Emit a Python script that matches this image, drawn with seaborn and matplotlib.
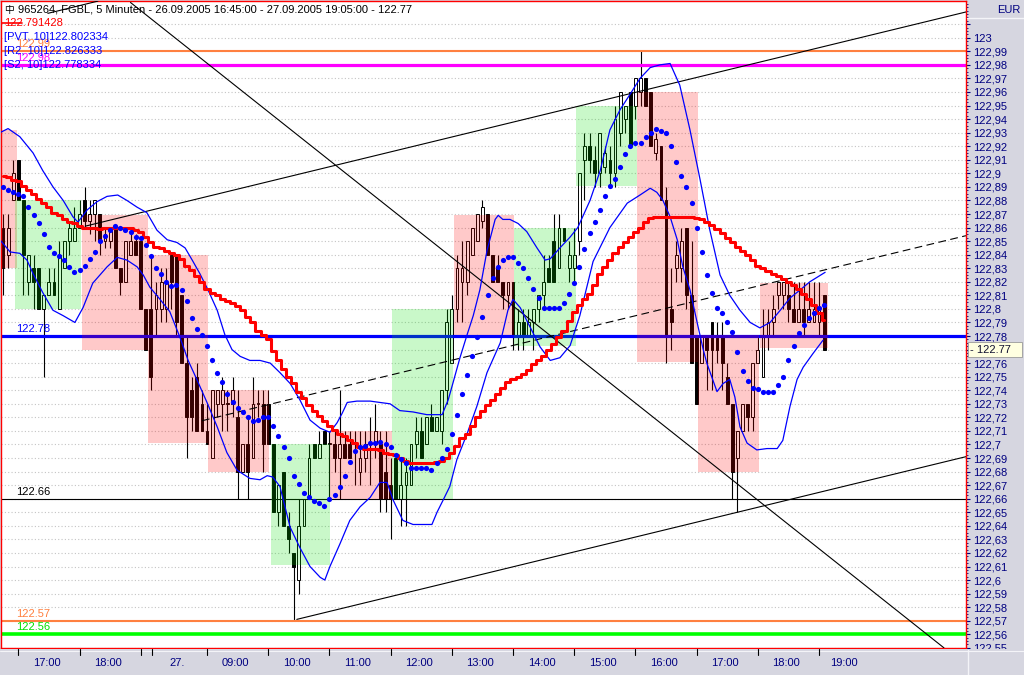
import numpy as np
import pandas as pd
import matplotlib
matplotlib.use("Agg")
import matplotlib.pyplot as plt
import matplotlib.transforms as mtransforms
from matplotlib.patches import Rectangle
from matplotlib.lines import Line2D
from matplotlib.ticker import MultipleLocator
import seaborn as sns

# ---------------- data (5-minute FGBL candles, bar index 0..161) ----------------
opens = [122.86, 122.84, 122.88, 122.91, 122.88, 122.82, 122.83, 122.83, 122.80, 122.81,
         122.82, 122.80, 122.83, 122.85, 122.85, 122.86, 122.88, 122.865, 122.87, 122.87,
         122.85, 122.85, 122.86, 122.83, 122.82, 122.84, 122.85, 122.85, 122.80, 122.80,
         122.80, 122.80, 122.80, 122.84, 122.84, 122.81, 122.76, 122.74, 122.75, 122.73,
         122.71, 122.69, 122.73, 122.73, 122.73, 122.73, 122.72, 122.68, 122.70, 122.69,
         122.73, 122.73, 122.73, 122.70, 122.65, 122.68, 122.64, 122.62, 122.60, 122.64,
         122.66, 122.70, 122.69, 122.71, 122.70, 122.70, 122.69, 122.70, 122.70, 122.70,
         122.68, 122.69, 122.70, 122.70, 122.70, 122.68, 122.67, 122.69, 122.66, 122.67,
         122.67, 122.70, 122.71, 122.70, 122.72, 122.71, 122.71, 122.74, 122.76, 122.80,
         122.82, 122.82, 122.84, 122.85, 122.865, 122.87, 122.84, 122.83, 122.82, 122.81,
         122.82, 122.78, 122.79, 122.78, 122.79, 122.80, 122.81, 122.83, 122.85, 122.83,
         122.86, 122.83, 122.83, 122.85, 122.91, 122.92, 122.91, 122.90, 122.905, 122.91,
         122.90, 122.93, 122.94, 122.96, 122.95, 122.96, 122.97, 122.96, 122.915, 122.92,
         122.88, 122.80, 122.83, 122.83, 122.86, 122.81, 122.78, 122.76, 122.78, 122.79,
         122.78, 122.78, 122.75, 122.73, 122.69, 122.71, 122.73, 122.72, 122.76, 122.75,
         122.78, 122.79, 122.81, 122.81, 122.81, 122.80, 122.79, 122.80, 122.79, 122.79,
         122.79, 122.81]
highs = [122.87, 122.87, 122.91, 122.91, 122.88, 122.84, 122.84, 122.83, 122.81, 122.83,
         122.83, 122.85, 122.85, 122.865, 122.875, 122.88, 122.89, 122.88, 122.88, 122.87,
         122.86, 122.86, 122.86, 122.83, 122.85, 122.855, 122.855, 122.85, 122.80, 122.84,
         122.82, 122.83, 122.83, 122.84, 122.84, 122.81, 122.78, 122.75, 122.76, 122.74,
         122.73, 122.74, 122.74, 122.75, 122.74, 122.75, 122.74, 122.70, 122.72, 122.75,
         122.74, 122.74, 122.74, 122.70, 122.67, 122.68, 122.65, 122.62, 122.66, 122.66,
         122.70, 122.70, 122.71, 122.71, 122.71, 122.71, 122.74, 122.71, 122.71, 122.71,
         122.71, 122.71, 122.72, 122.73, 122.71, 122.71, 122.69, 122.69, 122.69, 122.69,
         122.70, 122.72, 122.72, 122.72, 122.73, 122.72, 122.74, 122.80, 122.81, 122.84,
         122.85, 122.85, 122.86, 122.87, 122.88, 122.87, 122.84, 122.84, 122.82, 122.82,
         122.82, 122.80, 122.80, 122.80, 122.80, 122.81, 122.84, 122.84, 122.87, 122.87,
         122.86, 122.85, 122.86, 122.90, 122.93, 122.93, 122.92, 122.93, 122.92, 122.92,
         122.95, 122.96, 122.95, 122.96, 122.97, 122.99, 122.97, 122.96, 122.93, 122.92,
         122.89, 122.83, 122.85, 122.86, 122.86, 122.85, 122.78, 122.78, 122.78, 122.79,
         122.79, 122.79, 122.76, 122.73, 122.71, 122.73, 122.73, 122.76, 122.78, 122.80,
         122.80, 122.81, 122.82, 122.82, 122.82, 122.82, 122.82, 122.82, 122.82, 122.82,
         122.82, 122.81]
lows = [122.81, 122.83, 122.88, 122.88, 122.81, 122.81, 122.80, 122.80, 122.75, 122.81,
        122.81, 122.80, 122.83, 122.84, 122.85, 122.86, 122.86, 122.855, 122.85, 122.84,
        122.845, 122.845, 122.83, 122.81, 122.82, 122.84, 122.84, 122.80, 122.77, 122.74,
        122.78, 122.79, 122.79, 122.80, 122.78, 122.76, 122.69, 122.71, 122.71, 122.71,
        122.70, 122.69, 122.72, 122.71, 122.71, 122.72, 122.66, 122.68, 122.66, 122.69,
        122.72, 122.68, 122.70, 122.65, 122.64, 122.64, 122.62, 122.57, 122.59, 122.64,
        122.66, 122.69, 122.69, 122.70, 122.66, 122.68, 122.66, 122.69, 122.69, 122.67,
        122.67, 122.68, 122.67, 122.69, 122.65, 122.65, 122.63, 122.66, 122.64, 122.64,
        122.67, 122.69, 122.69, 122.70, 122.71, 122.71, 122.70, 122.73, 122.76, 122.79,
        122.79, 122.81, 122.84, 122.85, 122.86, 122.84, 122.82, 122.82, 122.80, 122.80,
        122.77, 122.77, 122.77, 122.78, 122.77, 122.79, 122.80, 122.82, 122.82, 122.83,
        122.85, 122.82, 122.82, 122.84, 122.88, 122.90, 122.89, 122.89, 122.90, 122.89,
        122.89, 122.92, 122.93, 122.92, 122.94, 122.95, 122.95, 122.92, 122.91, 122.88,
        122.76, 122.77, 122.82, 122.82, 122.80, 122.76, 122.73, 122.76, 122.74, 122.74,
        122.76, 122.74, 122.73, 122.66, 122.65, 122.71, 122.71, 122.71, 122.76, 122.75,
        122.77, 122.78, 122.80, 122.80, 122.79, 122.79, 122.79, 122.78, 122.79, 122.79,
        122.78, 122.77]
closes = [122.83, 122.86, 122.90, 122.88, 122.84, 122.84, 122.82, 122.80, 122.81, 122.82,
          122.81, 122.84, 122.85, 122.86, 122.86, 122.87, 122.865, 122.87, 122.88, 122.85,
          122.855, 122.86, 122.83, 122.82, 122.85, 122.85, 122.84, 122.80, 122.77, 122.75,
          122.81, 122.82, 122.82, 122.82, 122.79, 122.76, 122.72, 122.72, 122.71, 122.71,
          122.70, 122.74, 122.74, 122.74, 122.73, 122.74, 122.68, 122.70, 122.68, 122.73,
          122.73, 122.70, 122.70, 122.65, 122.67, 122.64, 122.63, 122.61, 122.64, 122.66,
          122.69, 122.69, 122.70, 122.70, 122.70, 122.69, 122.70, 122.69, 122.69, 122.70,
          122.69, 122.70, 122.70, 122.71, 122.66, 122.66, 122.66, 122.66, 122.67, 122.68,
          122.70, 122.71, 122.69, 122.72, 122.71, 122.72, 122.74, 122.79, 122.80, 122.83,
          122.83, 122.85, 122.86, 122.87, 122.875, 122.84, 122.82, 122.82, 122.81, 122.82,
          122.78, 122.79, 122.78, 122.79, 122.80, 122.81, 122.82, 122.82, 122.82, 122.86,
          122.85, 122.84, 122.84, 122.90, 122.92, 122.91, 122.90, 122.93, 122.915, 122.90,
          122.94, 122.96, 122.95, 122.92, 122.97, 122.97, 122.95, 122.92, 122.925, 122.88,
          122.78, 122.79, 122.84, 122.85, 122.81, 122.76, 122.73, 122.78, 122.77, 122.77,
          122.77, 122.76, 122.73, 122.68, 122.71, 122.73, 122.72, 122.76, 122.77, 122.78,
          122.79, 122.80, 122.82, 122.82, 122.80, 122.79, 122.80, 122.79, 122.80, 122.80,
          122.80, 122.77]

# red stepped moving average, one value per bar
ma_values = [122.898, 122.897, 122.895, 122.894, 122.891, 122.888, 122.885, 122.881, 122.878, 122.875,
             122.871, 122.869, 122.866, 122.864, 122.863, 122.861, 122.860, 122.860, 122.860, 122.859,
             122.860, 122.860, 122.860, 122.860, 122.860, 122.860, 122.858, 122.857, 122.853, 122.849,
             122.846, 122.845, 122.843, 122.841, 122.840, 122.837, 122.832, 122.829, 122.824, 122.820,
             122.815, 122.812, 122.810, 122.807, 122.806, 122.804, 122.802, 122.799, 122.794, 122.790,
             122.784, 122.781, 122.778, 122.769, 122.762, 122.756, 122.750, 122.745, 122.739, 122.734,
             122.729, 122.725, 122.721, 122.717, 122.714, 122.711, 122.708, 122.706, 122.703, 122.701,
             122.698, 122.697, 122.697, 122.697, 122.696, 122.694, 122.693, 122.692, 122.690, 122.688,
             122.686, 122.686, 122.686, 122.686, 122.686, 122.687, 122.688, 122.690, 122.694, 122.699,
             122.705, 122.708, 122.714, 122.720, 122.725, 122.729, 122.733, 122.737, 122.742, 122.746,
             122.748, 122.750, 122.752, 122.755, 122.759, 122.762, 122.765, 122.770, 122.774, 122.779,
             122.784, 122.791, 122.798, 122.803, 122.807, 122.811, 122.818, 122.826, 122.831, 122.836,
             122.841, 122.846, 122.849, 122.853, 122.857, 122.860, 122.864, 122.867, 122.868, 122.868,
             122.868, 122.868, 122.868, 122.868, 122.868, 122.868, 122.867, 122.866, 122.864, 122.862,
             122.859, 122.856, 122.852, 122.849, 122.846, 122.843, 122.840, 122.836, 122.832, 122.830,
             122.828, 122.826, 122.824, 122.822, 122.820, 122.818, 122.815, 122.811, 122.807, 122.803,
             122.797, 122.792]

# blue dotted stop indicator, one value per bar
sar_values = [122.890, 122.888, 122.886, 122.885, 122.883, 122.875, 122.869, 122.863, 122.855, 122.846,
              122.841, 122.839, 122.836, 122.831, 122.827, 122.829, 122.832, 122.837, 122.842, 122.850,
              122.854, 122.858, 122.861, 122.860, 122.858, 122.857, 122.853, 122.852, 122.847, 122.839,
              122.830, 122.826, 122.820, 122.817, 122.818, 122.814, 122.806, 122.793, 122.785, 122.781,
              122.773, 122.762, 122.753, 122.746, 122.737, 122.731, 122.727, 122.724, 122.720, 122.717,
              122.718, 122.720, 122.720, 122.714, 122.706, 122.698, 122.690, 122.677, 122.671, 122.664,
              122.661, 122.658, 122.657, 122.655, 122.660, 122.663, 122.669, 122.677, 122.687, 122.695,
              122.698, 122.699, 122.701, 122.701, 122.702, 122.700, 122.698, 122.692, 122.689, 122.686,
              122.683, 122.683, 122.683, 122.683, 122.681, 122.686, 122.690, 122.697, 122.708, 122.722,
              122.737, 122.751, 122.765, 122.779, 122.794, 122.810, 122.823, 122.831, 122.836, 122.838,
              122.838, 122.834, 122.830, 122.823, 122.815, 122.808, 122.801, 122.801, 122.801, 122.801,
              122.804, 122.811, 122.819, 122.831, 122.844, 122.856, 122.864, 122.873, 122.883, 122.891,
              122.896, 122.905, 122.914, 122.920, 122.922, 122.922, 122.927, 122.930, 122.933, 122.931,
              122.930, 122.920, 122.908, 122.898, 122.890, 122.878, 122.860, 122.842, 122.825, 122.812,
              122.801, 122.797, 122.790, 122.783, 122.768, 122.754, 122.747, 122.742, 122.741, 122.739,
              122.739, 122.739, 122.744, 122.750, 122.762, 122.773, 122.782, 122.788, 122.793, 122.797,
              122.801, 122.803]

# envelope bands (bar index, price)
upper_x = [-0.6, 1.0, 3.3, 5.9, 7.8, 9.8, 11.8, 13.7, 14.7, 16.5, 18.4, 20.4, 22.5, 24.3, 26.3,
           28.2, 30.2, 32.2, 34.1, 35.7, 37.1, 38.6, 40.2, 42.0, 43.5, 44.9, 46.5, 48.4, 50.4, 52.4,
           54.3, 56.3, 58.2, 60.2, 62.2, 64.1, 65.5, 66.5, 67.5, 69.4, 72.0, 73.9, 75.9, 77.8, 80.4,
           83.1, 86.1, 87.3, 88.2, 89.6, 91.0, 92.2, 93.5, 94.9, 96.5, 97.1, 98.0, 99.4, 101.0, 102.7,
           104.7, 106.3, 107.3, 109.2, 111.2, 112.7, 115.1, 117.1, 119.0, 121.0, 122.9, 124.9, 126.9, 128.8,
           130.8, 132.7, 134.7, 136.7, 138.6, 140.6, 142.5, 144.5, 146.5, 148.4, 150.4, 152.4, 154.3, 156.3,
           158.2, 161.2]
upper_y = [122.930, 122.933, 122.927, 122.915, 122.902, 122.890, 122.880, 122.868, 122.864, 122.873,
           122.879, 122.883, 122.884, 122.880, 122.875, 122.871, 122.858, 122.851, 122.849, 122.845,
           122.836, 122.826, 122.814, 122.799, 122.781, 122.770, 122.765, 122.762, 122.762, 122.760,
           122.753, 122.745, 122.733, 122.718, 122.712, 122.709, 122.716, 122.723, 122.731, 122.732,
           122.732, 122.731, 122.730, 122.725, 122.724, 122.722, 122.722, 122.733, 122.745, 122.764,
           122.781, 122.795, 122.814, 122.843, 122.866, 122.869, 122.866, 122.866, 122.863, 122.857,
           122.845, 122.836, 122.837, 122.845, 122.853, 122.860, 122.880, 122.902, 122.932, 122.947,
           122.958, 122.970, 122.978, 122.980, 122.981, 122.965, 122.932, 122.895, 122.858, 122.825,
           122.810, 122.799, 122.790, 122.786, 122.790, 122.799, 122.808, 122.814, 122.820, 122.827]
lower_x = [-0.6, 1.4, 3.3, 4.7, 5.9, 7.8, 9.8, 11.8, 14.1, 15.7, 17.6, 20.4, 22.4, 24.3, 26.3,
           27.5, 28.8, 30.8, 32.7, 34.7, 36.3, 38.0, 40.0, 42.0, 43.9, 45.9, 48.4, 50.4, 51.8, 52.9,
           54.3, 56.3, 58.2, 60.2, 62.2, 63.1, 64.1, 66.1, 68.0, 70.0, 72.0, 73.9, 75.3, 76.5, 78.4,
           80.4, 82.4, 84.1, 85.1, 86.3, 87.6, 89.0, 91.0, 92.9, 94.9, 97.5, 99.0, 100.0, 101.4, 103.3,
           105.3, 107.3, 109.2, 111.2, 113.1, 115.7, 119.0, 122.4, 124.9, 126.9, 128.2, 129.4, 130.8, 132.2,
           133.3, 134.7, 136.1, 137.3, 138.0, 140.0, 141.2, 142.5, 143.5, 144.5, 145.9, 147.8, 149.8, 151.8,
           152.9, 154.3, 155.7, 156.9, 158.8, 160.8]
lower_y = [122.851, 122.842, 122.841, 122.836, 122.826, 122.812, 122.799, 122.795, 122.790, 122.801,
           122.819, 122.831, 122.838, 122.836, 122.831, 122.825, 122.816, 122.807, 122.798, 122.779,
           122.762, 122.748, 122.731, 122.713, 122.694, 122.681, 122.675, 122.674, 122.677, 122.676,
           122.669, 122.639, 122.624, 122.610, 122.602, 122.600, 122.610, 122.627, 122.644, 122.654,
           122.661, 122.672, 122.672, 122.659, 122.644, 122.641, 122.641, 122.641, 122.650, 122.659,
           122.669, 122.689, 122.708, 122.728, 122.753, 122.775, 122.799, 122.807, 122.801, 122.787,
           122.772, 122.762, 122.764, 122.773, 122.795, 122.835, 122.860, 122.878, 122.884, 122.889,
           122.886, 122.880, 122.868, 122.851, 122.831, 122.814, 122.790, 122.770, 122.760, 122.739,
           122.745, 122.748, 122.735, 122.713, 122.701, 122.696, 122.697, 122.697, 122.703, 122.728,
           122.748, 122.757, 122.767, 122.777]

# hourly range boxes
box_start = [-0.6, 2.3, 15.4, 28.4, 40.2, 52.6, 64.1, 76.3, 88.4, 100.2, 112.4, 124.3, 136.3, 148.4]
box_end = [2.7, 15.3, 28.4, 40.2, 52.2, 64.1, 76.3, 88.2, 100.2, 112.4, 124.3, 136.3, 148.2, 161.8]
box_low = [122.830, 122.800, 122.770, 122.701, 122.680, 122.611, 122.660, 122.660, 122.781, 122.773,
           122.891, 122.761, 122.680, 122.771]
box_high = [122.932, 122.880, 122.869, 122.840, 122.740, 122.700, 122.710, 122.800, 122.869, 122.860,
            122.950, 122.960, 122.781, 122.819]
box_rising = [False, True, False, False, False, True, False, True, False, True, True, False, False, False]

# trend lines (bar index, price)
channel_top_x, channel_top_y = [16.1, 188.8], [122.861, 123.019]
channel_mid_x, channel_mid_y = [39.0, 188.8], [122.7175, 122.854]
channel_low_x, channel_low_y = [57.6, 188.8], [122.571, 122.691]
channel_extra_x, channel_extra_y = [8.8, 18.6], [123.018, 123.027]
falling_x, falling_y = [25.0, 184.5], [123.026, 122.550]

# horizontal levels
level_prices = [122.99, 122.98, 122.78, 122.66, 122.57, 122.56]
level_colors = ['#ff8040', '#ff00ff', '#0000ff', '#000000', '#ff8040', '#00ff00']
level_widths = [1.5, 2.3, 2.3, 0.8, 1.5, 2.6]
level_texts = ['122.99', '122.98', '122.78', '122.66', '122.57', '122.56']
level_text_colors = ['#ff8040', '#ff00ff', '#0000ff', '#000000', '#ff8040', '#00e000']

# time axis
xtick_pos = [3, 15, 27, 29.2, 40, 52, 64, 76, 88, 100, 112, 124, 136, 148, 160]
xtick_labels = ['17:00', '18:00', '', '27.', '09:00', '10:00', '11:00', '12:00', '13:00',
                '14:00', '15:00', '16:00', '17:00', '18:00', '19:00']
xtick_label_shift = [5.6, 5.6, 0, 4.9, 5.6, 5.6, 5.6, 5.6, 5.6, 5.6, 5.6, 5.6, 5.6, 5.6, 4.8]

legend_lines = ['122.791428', '[PVT, 10]122.802334', '[R2, 10]122.826333', '[S2, 10]122.778334']
legend_colors = ['#ff0000', '#0000ff', '#0000ff', '#0000ff']
title_text = '965264, FGBL, 5 Minuten - 26.09.2005 16:45:00 - 27.09.2005 19:05:00 - 122.77'
last_price = 122.77

# ---------------- figure ----------------
sns.set_style("white")
plt.rcParams['font.family'] = ['Liberation Sans', 'DejaVu Sans']

W, H = 1024, 675
PANEL = '#d6d6e0'
NAVY = '#000080'
fig = plt.figure(figsize=(W / 100, H / 100), dpi=100, facecolor=PANEL)
ax = fig.add_axes([1 / W, 27 / H, 965 / W, 647 / H])
ax.set_facecolor('white')

bars = pd.DataFrame({'i': np.arange(len(opens)), 'o': opens, 'h': highs, 'l': lows, 'c': closes,
                     'ma': ma_values, 'sar': sar_values})

# candles
ax.vlines(bars['i'], bars['l'], bars['h'], color='black', lw=0.8, zorder=1.5)
up = bars['c'] >= bars['o']
body_lo = np.minimum(bars['o'], bars['c'])
body_h = np.maximum((bars['c'] - bars['o']).abs(), 0.0008)
ax.bar(bars['i'][up], body_h[up], bottom=body_lo[up], width=0.55, facecolor='white',
       edgecolor='black', linewidth=0.7, zorder=1.6)
ax.bar(bars['i'][~up], body_h[~up], bottom=body_lo[~up], width=0.55, facecolor='black',
       edgecolor='black', linewidth=0.7, zorder=1.6)

# horizontal levels
for p, col, lw in zip(level_prices, level_colors, level_widths):
    ax.axhline(p, color=col, lw=lw, zorder=2)

# translucent hourly boxes
for s, e, lo, hi, rising in zip(box_start, box_end, box_low, box_high, box_rising):
    ax.add_patch(Rectangle((s, lo), e - s, hi - lo, facecolor='#00e000' if rising else '#ff0000',
                           alpha=0.21, lw=0, zorder=3))

# trend lines
for xs, ys in [(channel_top_x, channel_top_y), (channel_low_x, channel_low_y),
               (channel_extra_x, channel_extra_y), (falling_x, falling_y)]:
    ax.plot(xs, ys, color='black', lw=0.8, zorder=4)
ax.plot(channel_mid_x, channel_mid_y, color='black', lw=0.8, dashes=(7, 4), zorder=4)

# bands, average, stops
sns.lineplot(x=upper_x, y=upper_y, ax=ax, color='#0000ff', lw=0.9, sort=False, estimator=None, zorder=4.5)
sns.lineplot(x=lower_x, y=lower_y, ax=ax, color='#0000ff', lw=0.9, sort=False, estimator=None, zorder=4.5)
sns.lineplot(data=bars, x='i', y='ma', ax=ax, color='#ff0000', lw=2.2, drawstyle='steps-mid',
             estimator=None, zorder=5)
sns.scatterplot(data=bars, x='i', y='sar', ax=ax, color='#0000ff', s=14, linewidth=0, zorder=6)

# level labels
for p, txt, col in zip(level_prices, level_texts, level_text_colors):
    ax.annotate(txt, xy=(2.6, p), xytext=(0, 1.5), textcoords='offset points', color=col,
                fontsize=8, ha='left', va='bottom', zorder=7)

# axes limits and ticks
ax.set_xlim(-0.392, 188.82)
ax.set_ylim(122.5499, 123.0271)
ax.set_xlabel('')
ax.set_ylabel('')
yt = np.round(np.arange(122.55, 123.0101, 0.01), 2)
ylabels = []
for v in yt:
    if abs(v - 123.01) < 1e-6 or abs(v - last_price) < 1e-6:
        ylabels.append('')
    else:
        ylabels.append(f"{v:.2f}".rstrip('0').rstrip('.').replace('.', ','))
ax.yaxis.tick_right()
ax.set_yticks(yt, ylabels)
ax.yaxis.set_minor_locator(MultipleLocator(0.0025))
ax.tick_params(axis='y', which='major', direction='out', length=3, width=0.8, color=NAVY,
               labelcolor=NAVY, labelsize=8, pad=2)
ax.tick_params(axis='y', which='minor', direction='out', length=1.5, width=0.6, color=NAVY)
ax.set_xticks([])
ax.grid(axis='y', which='major', color='#c4c4c4', linestyle=(0, (1, 2)), lw=0.8)
ax.set_axisbelow(True)
for sp in ax.spines.values():
    sp.set_color('#ff0000')
    sp.set_linewidth(1.0)
    sp.set_visible(True)

# last price marker on the price scale
ytrans = mtransforms.blended_transform_factory(ax.transAxes, ax.transData)
ax.add_patch(Rectangle((1.0021, last_price - 0.0053), 0.056, 0.0106, transform=ytrans,
                       facecolor='#ffffe1', edgecolor='#9a9a9a', lw=0.6, clip_on=False, zorder=10))
ax.text(1.004, last_price, '- 122.77', transform=ytrans, fontsize=8, color='#101030',
        va='center', ha='left', clip_on=False, zorder=11)

# bottom time panel
fig.add_artist(Rectangle((0, 0), 1, 26 / H, transform=fig.transFigure, facecolor=PANEL,
                         edgecolor='none', zorder=1))
fig.add_artist(Line2D([0, 1], [1 - 650.5 / H] * 2, transform=fig.transFigure, color='#f4f4f8',
                      lw=0.8, zorder=1.5))
fig.add_artist(Line2D([967.5 / W] * 2, [0, 1 - 650 / H], transform=fig.transFigure, color='#f4f4f8',
                      lw=1.0, zorder=1.5))
xtrans = mtransforms.blended_transform_factory(ax.transData, fig.transFigure)
for pos in xtick_pos:
    fig.add_artist(Line2D([pos, pos], [1 - 649 / H, 1 - 655 / H], transform=xtrans,
                          color='black', lw=0.8, zorder=2))
for pos, lab, sh in zip(xtick_pos, xtick_labels, xtick_label_shift):
    if lab:
        fig.text(pos + sh, 1 - 663 / H, lab, transform=xtrans, fontsize=8, color=NAVY,
                 ha='center', va='center', zorder=3)

# price scale header
fig.text(1020 / W, 1 - 10 / H, 'EUR', fontsize=8, color=NAVY, ha='right', va='center')
fig.add_artist(Line2D([967 / W, 1], [1 - 17.5 / H] * 2, transform=fig.transFigure,
                      color='#f4f4f8', lw=1.0, zorder=2))

# chart legend (top left)
fig.text(4 / W, 1 - 10 / H, '中', fontsize=7, family=['Noto Sans CJK SC', 'DejaVu Sans'],
         color='black', ha='left', va='center', zorder=5)
fig.text(18 / W, 1 - 10 / H, title_text, fontsize=8, color='black', ha='left', va='center', zorder=5)
for k, (txt, col) in enumerate(zip(legend_lines, legend_colors)):
    fig.text(4 / W, 1 - (23.5 + 14 * k) / H, txt, fontsize=8, color=col, ha='left', va='center', zorder=5)
fig.add_artist(Line2D([2 / W, 22 / W], [1 - 23 / H] * 2, transform=fig.transFigure,
                      color='#ff0000', lw=1.2, zorder=6))

fig.savefig('out.png', dpi=100, facecolor=PANEL)
